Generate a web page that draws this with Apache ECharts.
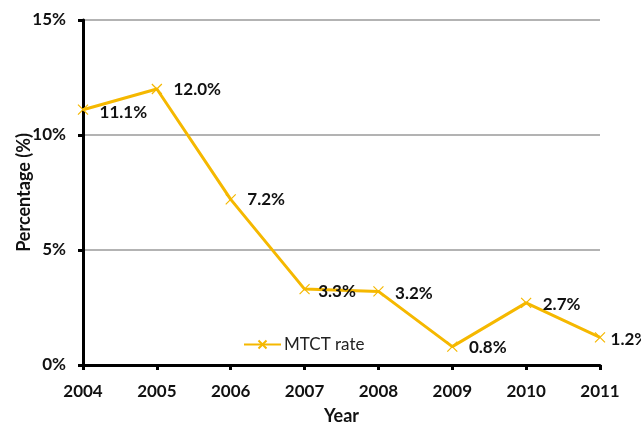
<!DOCTYPE html>
<html><head><meta charset="utf-8">
<script src="https://cdn.jsdelivr.net/npm/echarts@6/dist/echarts.min.js"></script>
<style>html,body{margin:0;padding:0;background:#fff}#c{width:641px;height:423px}</style>
</head><body><div id="c"></div>
<script>
var years = ['2004','2005','2006','2007','2008','2009','2010','2011'];
var mtctRate = [11.1, 12.0, 7.2, 3.3, 3.2, 0.8, 2.7, 1.2];
var yTicks = [0, 5, 10, 15];
var seriesName = 'MTCT rate';

var FONT = 'Lato';
var COLOR = '#F5B800';
var xPath = 'path://M0,0L10,10M10,0L0,10';
var labelOffsets = [[0,3],[0,1],[0,0],[-3,2],[0,2],[0,1],[0,2],[-6,2]];

var chart = echarts.init(document.getElementById('c'));
chart.setOption({
  animation: false,
  grid: {left: 83, right: 41, top: 20, bottom: 58, containLabel: false, outerBoundsMode: 'none'},
  legend: {
    data: [seriesName],
    left: 238, top: 331,
    itemWidth: 37, itemHeight: 10,
    textStyle: {fontFamily: FONT, fontSize: 17, color: '#222', padding: [0,0,0,-2]}
  },
  xAxis: {
    type: 'category', data: years, boundaryGap: false,
    name: 'Year', nameLocation: 'middle', nameGap: 42, nameMoveOverlap: false,
    nameTextStyle: {fontFamily: FONT, fontSize: 18, fontWeight: 'bold', color: '#111'},
    axisLine: {lineStyle: {color: '#000', width: 3}},
    axisTick: {show: true, length: 5, lineStyle: {color: '#000', width: 3}},
    axisLabel: {fontFamily: FONT, fontSize: 17, fontWeight: 'bold', color: '#111', margin: 18},
    splitLine: {show: false}
  },
  yAxis: {
    type: 'value', min: yTicks[0], max: yTicks[yTicks.length-1], interval: 5,
    name: 'Percentage (%)', nameLocation: 'middle', nameGap: 50, nameRotate: 90, nameMoveOverlap: false,
    nameTextStyle: {fontFamily: FONT, fontSize: 18, fontWeight: 'bold', color: '#111'},
    axisLine: {show: true, lineStyle: {color: '#000', width: 3}},
    axisTick: {show: true, length: 5, lineStyle: {color: '#000', width: 3}},
    axisLabel: {fontFamily: FONT, fontSize: 17, fontWeight: 'bold', color: '#111', margin: 17,
      formatter: function(v){ return v + '%'; }},
    splitLine: {show: true, lineStyle: {color: '#b3b3b3', width: 2}}
  },
  series: [{
    name: seriesName, type: 'line',
    data: mtctRate.map(function(v, i){
      return {value: v, label: {offset: labelOffsets[i]}};
    }),
    symbol: xPath, symbolSize: 10,
    itemStyle: {color: COLOR, borderColor: COLOR, borderWidth: 1.2},
    lineStyle: {color: COLOR, width: 3},
    label: {show: true, position: 'right', distance: 11,
      fontFamily: FONT, fontSize: 17, fontWeight: 'bold', color: '#111',
      formatter: function(p){ return p.value.toFixed(1) + '%'; }},
    z: 3
  }]
});
</script></body></html>
